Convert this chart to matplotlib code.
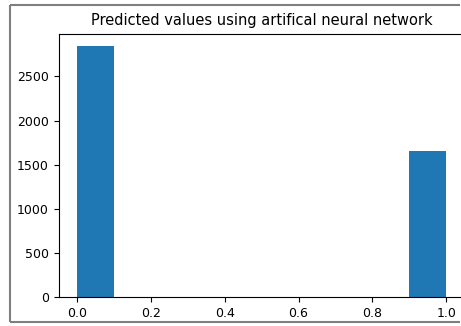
import numpy as np
import matplotlib.pyplot as plt
from matplotlib.lines import Line2D

# predicted class histogram — 10 bins over [0, 1]
BIN_EDGES = [0.0, 0.1, 0.2, 0.3, 0.4, 0.5, 0.6, 0.7, 0.8, 0.9, 1.0]
COUNTS    = [2845, 0, 0, 0, 0, 0, 0, 0, 0, 1655]
TITLE     = "Predicted values using artifical neural network"

W, H = 461, 326
fig = plt.figure(figsize=(W / 100, H / 100), dpi=100)

# notebook output frame: left, top and bottom edges (right side is cropped)
fx0, fx1 = 10 / W, (W - 0.6) / W
fy0, fy1 = 4 / H, (H - 5) / H
for xs, ys in [([fx0, fx1], [fy1, fy1]),
               ([fx0, fx1], [fy0, fy0]),
               ([fx0, fx0], [fy0, fy1])]:
    fig.add_artist(Line2D(xs, ys, transform=fig.transFigure,
                          color="#7f7f7f", lw=1.5, solid_capstyle="butt"))

ax = fig.add_axes([58.6 / W, 29 / H, 406 / W, (297 - 33.5) / H])
left = np.array(BIN_EDGES[:-1])
ax.hist(left, bins=BIN_EDGES, weights=COUNTS, color="#1f77b4")
ax.set_title(TITLE, fontsize=10.5)
ax.tick_params(labelsize=9)
ax.spines["right"].set_visible(False)   # falls outside the crop

fig.savefig("out.png", dpi=100)
